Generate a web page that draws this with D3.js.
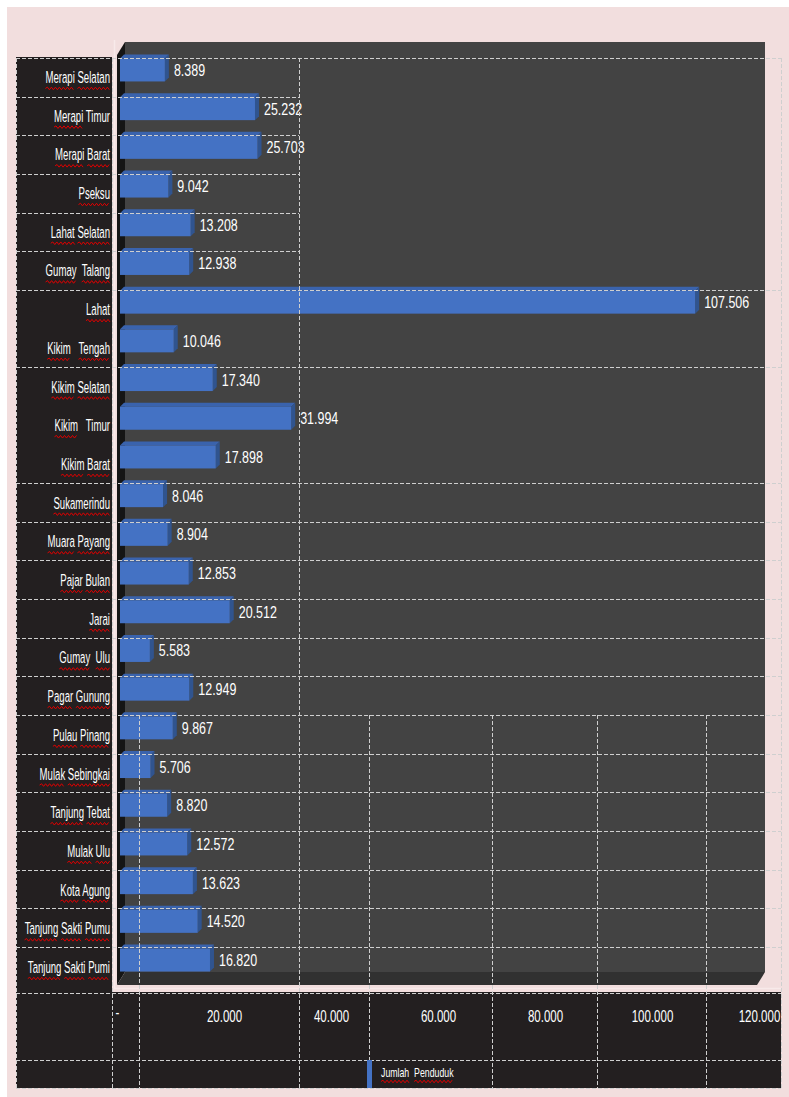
<!DOCTYPE html>
<html>
<head>
<meta charset="utf-8">
<script src="https://d3js.org/d3.v7.min.js"></script>
<style>
body { margin: 0; background: #fff; }
text { font-family: "Liberation Sans", Arial, sans-serif; fill: #fff; white-space: pre; }
</style>
</head>
<body>
<script>
var w = 789;
var h = 1097;

// data
var kecamatan = ["Merapi Selatan", "Merapi Timur", "Merapi Barat", "Pseksu", "Lahat Selatan",
  "Gumay  Talang", "Lahat", "Kikim   Tengah", "Kikim Selatan", "Kikim   Timur", "Kikim Barat",
  "Sukamerindu", "Muara Payang", "Pajar Bulan", "Jarai", "Gumay  Ulu", "Pagar Gunung",
  "Pulau Pinang", "Mulak Sebingkai", "Tanjung Tebat", "Mulak Ulu", "Kota Agung",
  "Tanjung Sakti Pumu", "Tanjung Sakti Pumi"];
var penduduk = [8389, 25232, 25703, 9042, 13208, 12938, 107506, 10046, 17340, 31994, 17898,
  8046, 8904, 12853, 20512, 5583, 12949, 9867, 5706, 8820, 12572, 13623, 14520, 16820];
var xTicks = [0, 20000, 40000, 60000, 80000, 100000, 120000];
var seriesName = "Jumlah  Penduduk";

// table layout of the document the chart sits in
var tableCols = [16, 112, 139, 299, 369, 492, 597, 706, 781];
var noRule = ["Kikim   Tengah", "Kikim   Timur", "Kikim Barat"];
var kataBaku = ["Timur"]; // words without the spell-check squiggle

var svg = d3.select("body").append("svg")
  .attr("width", w)
  .attr("height", h);

var id = d3.formatLocale({decimal: ",", thousands: ".", grouping: [3], currency: ["", ""]});
var fmt = id.format(",.0f");

var x = d3.scaleLinear().domain([0, 120000]).range([120, 762]);
var y = d3.scaleBand().domain(kecamatan).range([50.6, 979.4])
  .paddingInner(0.406).paddingOuter(0.203);
var rows = d3.scaleBand().domain(kecamatan).range([58, 58 + 24 * 38.65]);

// page background and dark table cells
svg.append("rect").attr("x", 7).attr("y", 7).attr("width", 782).attr("height", 1090).attr("fill", "#f2dede");
svg.append("rect").attr("x", 16).attr("y", 57).attr("width", 96).attr("height", 1031).attr("fill", "#231f20");
svg.append("rect").attr("x", 16).attr("y", 992).attr("width", 765).attr("height", 96).attr("fill", "#231f20");

// 3D walls
var dx = 8, dy = 13;
var wallL = 117, wallR = 757, wallT = 55, wallB = 985;
svg.append("path")
  .attr("d", "M" + (wallL + dx) + "," + (wallT - dy) + "H" + (wallR + dx) + "V" + (wallB - dy) + "H" + (wallL + dx) + "Z")
  .attr("fill", "#434343");
svg.append("path")
  .attr("d", "M" + wallL + "," + wallT + "L" + (wallL + dx) + "," + (wallT - dy) + "V" + (wallB - dy) + "L" + wallL + "," + wallB + "Z")
  .attr("fill", "#151515");
svg.append("path")
  .attr("d", "M" + wallL + "," + wallB + "L" + (wallL + dx) + "," + (wallB - dy) + "H" + (wallR + dx) + "L" + wallR + "," + wallB + "Z")
  .attr("fill", "#313131");
svg.append("path")
  .attr("d", "M114.5,40V988.5H781")
  .attr("fill", "none").attr("stroke", "#f8eaea").attr("stroke-width", 1.5);

// bars
var d3x = 4, d3y = 4;
var bars = svg.append("g").selectAll("g")
  .data(kecamatan)
  .enter().append("g");
bars.append("path")
  .attr("d", function(d, i) {
    var y0 = y(d), x0 = x(0), x1 = x(penduduk[i]);
    return "M" + x0 + "," + y0 + "L" + (x0 + d3x) + "," + (y0 - d3y) + "H" + (x1 + d3x) + "L" + x1 + "," + y0 + "Z";
  })
  .attr("fill", "#3a63ad");
bars.append("path")
  .attr("d", function(d, i) {
    var y0 = y(d), x1 = x(penduduk[i]);
    return "M" + x1 + "," + y0 + "L" + (x1 + d3x) + "," + (y0 - d3y) + "V" + (y0 + y.bandwidth() - d3y) + "L" + x1 + "," + (y0 + y.bandwidth()) + "Z";
  })
  .attr("fill", "#30548f");
bars.append("rect")
  .attr("x", x(0))
  .attr("y", function(d) { return y(d); })
  .attr("width", function(d, i) { return x(penduduk[i]) - x(0); })
  .attr("height", y.bandwidth())
  .attr("fill", "#4472c4");

// value labels
svg.append("g").selectAll("text")
  .data(kecamatan)
  .enter().append("text")
  .attr("transform", function(d, i) {
    return "translate(" + (x(penduduk[i]) + 9) + "," + (y(d) + y.bandwidth() / 2 + 6) + ") scale(0.78,1)";
  })
  .attr("font-size", 16)
  .text(function(d, i) { return fmt(penduduk[i]); });

function squiggle(x0, x1, yy) {
  var p = "M" + x0.toFixed(1) + "," + yy;
  var up = true;
  for (var xx = x0 + 2; xx <= x1; xx += 2) {
    p += "L" + xx.toFixed(1) + "," + (up ? yy - 1.3 : yy + 1.3);
    up = !up;
  }
  return p;
}

// words get a red spell-check line, like in the document
function underline(g, textEl, sx, yy) {
  var node = textEl.node();
  var s = textEl.text();
  var re = /\S+/g, m;
  while ((m = re.exec(s)) !== null) {
    if (kataBaku.indexOf(m[0]) >= 0) continue;
    var a = node.getStartPositionOfChar(m.index).x;
    var b = node.getEndPositionOfChar(m.index + m[0].length - 1).x;
    g.append("path")
      .attr("d", squiggle(a * sx, b * sx, yy))
      .attr("fill", "none")
      .attr("stroke", "#e00000")
      .attr("stroke-width", 1);
  }
}

// category labels
var labelScale = 0.565;
kecamatan.forEach(function(d) {
  var cy = y(d) + y.bandwidth() / 2;
  var g = svg.append("g").attr("transform", "translate(110," + (cy + 13) + ")");
  var t = g.append("text")
    .attr("transform", "scale(" + labelScale + ",1)")
    .attr("text-anchor", "end")
    .attr("font-size", 17)
    .text(d);
  underline(g, t, labelScale, 5.5);
});

// value axis
var axis = svg.append("g")
  .attr("transform", "translate(-3,1022)")
  .call(d3.axisBottom(x).tickValues(xTicks).tickSize(0)
    .tickFormat(function(v) { return v === 0 ? "-" : fmt(v); }));
axis.select(".domain").remove();
axis.selectAll("text")
  .attr("y", 0).attr("dy", 0)
  .attr("font-size", 16)
  .attr("font-family", null)
  .attr("fill", "#fff")
  .attr("transform", function(v) { return v === 0 ? "translate(0,-4) scale(0.72,1)" : "scale(0.72,1)"; });

// dashed table rules
var grid = svg.append("g")
  .attr("stroke", "#cfcfcf")
  .attr("stroke-width", 1)
  .attr("stroke-dasharray", "4,2")
  .attr("fill", "none");
var hRules = [[58, 781], [992.5, 781], [1060, 781], [1088, 781]];
kecamatan.forEach(function(d, i) {
  if (i === 0 || noRule.indexOf(d) >= 0) return;
  hRules.push([rows(d), i <= 5 ? 299 : 781]);
});
hRules.forEach(function(r) {
  var yy = Math.round(r[0]) + 0.5;
  grid.append("path").attr("d", "M16," + yy + "H" + r[1]);
});
var lowStart = Math.round(rows("Pulau Pinang"));
tableCols.forEach(function(c) {
  var full = c === 16 || c === 112 || c === 299 || c === 781;
  grid.append("path").attr("d", "M" + (c + 0.5) + "," + (full ? 58 : lowStart) + "V1088");
});

// legend
svg.append("rect")
  .attr("x", 367).attr("y", 1060).attr("width", 5).attr("height", 28)
  .attr("fill", "#4472c4");
var lg = svg.append("g").attr("transform", "translate(381,1077)");
var lt = lg.append("text")
  .attr("transform", "scale(0.73,1)")
  .attr("font-size", 12)
  .text(seriesName);
underline(lg, lt, 0.73, 4.5);
</script>
</body>
</html>
